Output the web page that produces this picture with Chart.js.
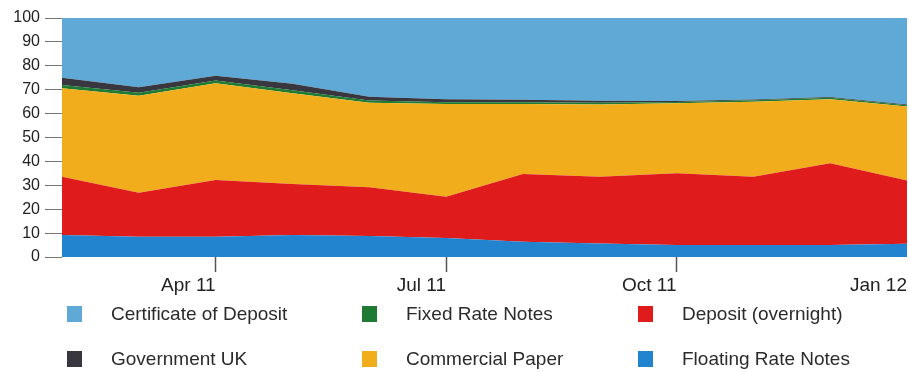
<!DOCTYPE html>
<html>
<head>
<meta charset="utf-8">
<script src="https://cdn.jsdelivr.net/npm/chart.js@4.4.1/dist/chart.umd.min.js"></script>
<style>
    body { margin: 0; background: #fff; font-family: "Liberation Sans", Arial, sans-serif; }
    #wrap { position: relative; width: 909px; height: 372px; overflow: hidden; }
    #chartBox { position: absolute; left: 0; top: 0; width: 909px; height: 300px; }
    #legend { position: absolute; left: 0; top: 0; width: 909px; height: 372px; }
    .item { position: absolute; font-size: 19px; color: #2b2b2b; white-space: nowrap; }
    .sw { position: absolute; width: 15px; height: 16px; }
</style>
</head>
<body>
<div id="wrap">
    <div id="chartBox"><canvas id="mix"></canvas></div>
    <div id="legend"></div>
</div>
<script>
// месяцы (точки на оси X)
var months = ['Feb 11', 'Mar 11', 'Apr 11', 'May 11', 'Jun 11', 'Jul 11',
	      'Aug 11', 'Sep 11', 'Oct 11', 'Nov 11', 'Dec 11', 'Jan 12'];
var tickMonths = [2, 5, 8, 11]; // подписанные месяцы

// доли в процентах, снизу вверх
var floatingRateNotes = [9.2, 8.5, 8.5, 9.2, 8.8, 7.9, 6.4, 5.7, 5.0, 5.0, 5.0, 5.5];
var depositOvernight  = [24.4, 18.4, 23.7, 21.3, 20.4, 17.3, 28.3, 27.9, 30.0, 28.6, 34.2, 26.5];
var commercialPaper   = [37.0, 40.6, 40.5, 38.0, 35.3, 38.8, 29.3, 30.2, 29.3, 31.4, 26.8, 31.0];
var fixedRateNotes    = [1.4, 1.2, 1.1, 1.3, 1.0, 0.8, 0.8, 0.7, 0.6, 0.6, 0.6, 0.5];
var governmentUK      = [3.0, 2.3, 2.0, 2.7, 1.5, 1.2, 1.0, 0.9, 0.4, 0.3, 0.3, 0.3];
var certOfDeposit     = [25.0, 29.0, 24.2, 27.5, 33.0, 34.0, 34.2, 34.6, 34.7, 34.1, 33.1, 36.2];

var yTicks = [0, 10, 20, 30, 40, 50, 60, 70, 80, 90, 100];

var series = [
    { label: 'Floating Rate Notes', data: floatingRateNotes, color: '#2283cf' },
    { label: 'Deposit (overnight)', data: depositOvernight, color: '#df1b1b' },
    { label: 'Commercial Paper', data: commercialPaper, color: '#f1ad1b' },
    { label: 'Fixed Rate Notes', data: fixedRateNotes, color: '#1f7a33' },
    { label: 'Government UK', data: governmentUK, color: '#38363f' },
    { label: 'Certificate of Deposit', data: certOfDeposit, color: '#5ea9d6' }
];

// порядок легенды: по строкам, три колонки
var legendOrder = [
    'Certificate of Deposit', 'Fixed Rate Notes', 'Deposit (overnight)',
    'Government UK', 'Commercial Paper', 'Floating Rate Notes'
];

var datasets = series.map((s, i) => {
    return {
	label: s.label,
	data: s.data.map((v, j) => ({ x: j, y: v })),
	backgroundColor: s.color,
	borderColor: s.color,
	borderWidth: 0,
	pointRadius: 0,
	tension: 0,
	fill: i === 0 ? 'origin' : '-1'
    };
});

var ctx = document.getElementById('mix');
var chart = new Chart(ctx, {
    type: 'line',
    data: { datasets: datasets },
    options: {
	animation: false,
	responsive: true,
	maintainAspectRatio: false,
	layout: { padding: { top: 18, right: 0, left: 0, bottom: 0 } },
	scales: {
	    x: {
		type: 'linear',
		min: 0,
		max: 11,
		afterBuildTicks: (scale) => {
		    scale.ticks = tickMonths.map(v => ({ value: v }));
		},
		afterFit: (scale) => { scale.height = 43; },
		border: { display: false },
		grid: {
		    drawOnChartArea: false,
		    drawTicks: true,
		    tickLength: 15,
		    tickWidth: 1.5,
		    tickColor: (c) => c.index === tickMonths.length - 1 ? 'rgba(0,0,0,0)' : '#555'
		},
		ticks: {
		    align: 'end',
		    padding: 2,
		    autoSkip: false,
		    maxRotation: 0,
		    color: '#222',
		    font: { family: '"Liberation Sans", Arial, sans-serif', size: 19 },
		    callback: (v) => months[v]
		}
	    },
	    y: {
		stacked: true,
		min: 0,
		max: 100,
		afterBuildTicks: (scale) => {
		    scale.ticks = yTicks.map(v => ({ value: v }));
		},
		afterFit: (scale) => { scale.width = 62; },
		border: { display: false },
		grid: {
		    drawOnChartArea: false,
		    drawTicks: true,
		    tickLength: 17,
		    tickColor: '#777'
		},
		ticks: {
		    padding: 5,
		    color: '#222',
		    font: { family: '"Liberation Sans", Arial, sans-serif', size: 16 }
		}
	    }
	},
	plugins: {
	    legend: { display: false },
	    tooltip: { enabled: false }
	}
    }
});

// легенда под графиком
function buildLegend() {
    var box = document.getElementById('legend');
    var colX = [67, 362, 638];
    var rowY = [306, 351];
    legendOrder.forEach((name, i) => {
	var s = series.find(d => d.label === name);
	var col = i % 3;
	var row = Math.floor(i / 3);
	var sw = document.createElement('div');
	sw.className = 'sw';
	sw.style.left = colX[col] + 'px';
	sw.style.top = rowY[row] + 'px';
	sw.style.background = s.color;
	box.appendChild(sw);
	var t = document.createElement('div');
	t.className = 'item';
	t.style.left = (colX[col] + 44) + 'px';
	t.style.top = (rowY[row] - 3) + 'px';
	t.textContent = name;
	box.appendChild(t);
    });
}

buildLegend();
</script>
</body>
</html>
